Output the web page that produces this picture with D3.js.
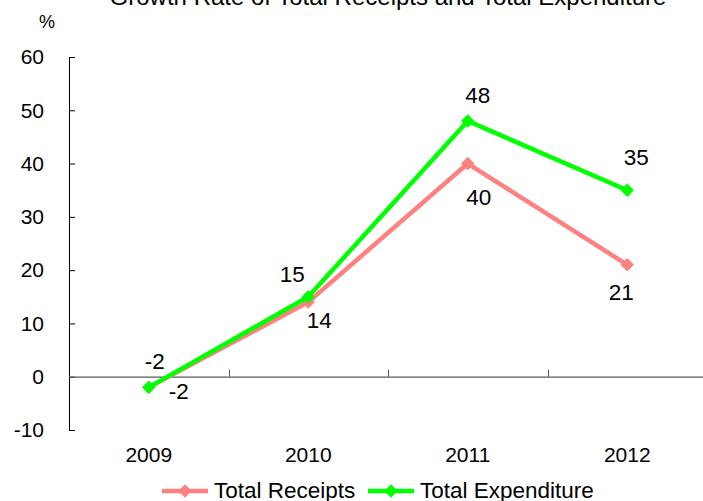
<!DOCTYPE html>
<html>
<head>
<meta charset="utf-8">
<script src="https://cdn.jsdelivr.net/npm/d3@7"></script>
<style>
  html, body { margin: 0; padding: 0; background: #fff; }
  svg { display: block; font-family: "Liberation Sans", Arial, sans-serif; }
</style>
</head>
<body>
<svg id="chart" width="703" height="501"></svg>
<script>
// Annual growth rates (%)
const years = ["2009", "2010", "2011", "2012"];
const totalReceipts = [-2, 14, 40, 21];
const totalExpenditure = [-2, 15, 48, 35];
const yTicks = [-10, 0, 10, 20, 30, 40, 50, 60];

const seriesNames = ["Total Receipts", "Total Expenditure"];
const seriesColors = ["#FF8080", "#00FF00"];

// Label nudges (dx, dy) from each point, per series
const labelNudges = [
  [[30, 4], [11, 18], [11, 34], [-6, 27]],
  [[6, -26], [-16, -23], [10, -26], [9, -33]]
];

const svg = d3.select("#chart");

const x = d3.scaleBand().domain(years).range([69, 707]).padding(0);
const y = d3.scaleLinear().domain([-10, 60]).range([430, 57]);

// Title
svg.append("text")
  .attr("x", 388).attr("y", 5)
  .attr("text-anchor", "middle")
  .attr("font-size", 24)
  .attr("fill", "#000")
  .text("Growth Rate of Total Receipts and Total Expenditure");

// Unit label
svg.append("text")
  .attr("x", 47).attr("y", 28)
  .attr("text-anchor", "middle")
  .attr("font-size", 18)
  .text("%");

// Y axis (ticks pointing inward)
const yAxis = svg.append("g")
  .attr("transform", "translate(69,0)")
  .call(d3.axisRight(y).tickValues(yTicks).tickSize(6).tickFormat(""));
yAxis.select(".domain").attr("stroke", "#000").attr("d", "M0.5," + y(-10) + "V" + y(60));
yAxis.selectAll(".tick line").attr("stroke", "#000");

// Y tick labels
svg.append("g").selectAll("text")
  .data(yTicks).join("text")
  .attr("x", 44)
  .attr("y", d => y(d))
  .attr("dy", "0.35em")
  .attr("text-anchor", "end")
  .attr("font-size", 21)
  .text(d => d);

// X axis at zero with category separators
const xAxis = svg.append("g")
  .attr("transform", "translate(0," + y(0) + ")");
xAxis.append("line")
  .attr("x1", 69).attr("x2", 703)
  .attr("y1", 0.5).attr("y2", 0.5)
  .attr("stroke", "#595959").attr("stroke-width", 1.3);
xAxis.selectAll(".sep")
  .data(years.slice(1)).join("line")
  .attr("class", "sep")
  .attr("x1", d => Math.round(x(d)) + 0.5)
  .attr("x2", d => Math.round(x(d)) + 0.5)
  .attr("y1", 0).attr("y2", -7)
  .attr("stroke", "#595959");

// Category labels
svg.append("g").selectAll("text")
  .data(years).join("text")
  .attr("x", d => x(d) + x.bandwidth() / 2)
  .attr("y", 462)
  .attr("text-anchor", "middle")
  .attr("font-size", 21)
  .text(d => d);

const cx = d => x(d) + x.bandwidth() / 2;
const line = d3.line().x(d => cx(d.year)).y(d => y(d.value));

const seriesData = [totalReceipts, totalExpenditure].map((vals, si) =>
  vals.map((v, i) => ({ year: years[i], value: v, nudge: labelNudges[si][i] }))
);

seriesData.forEach((data, si) => {
  const g = svg.append("g");
  g.append("path")
    .datum(data)
    .attr("d", line)
    .attr("fill", "none")
    .attr("stroke", seriesColors[si])
    .attr("stroke-width", 4.5)
    .attr("stroke-linejoin", "round");
  g.selectAll(".marker")
    .data(data).join("path")
    .attr("class", "marker")
    .attr("d", d3.symbol().type(d3.symbolSquare).size(90))
    .attr("transform", d => `translate(${cx(d.year)},${y(d.value)}) rotate(45)`)
    .attr("fill", seriesColors[si]);
});

// Value labels
seriesData.forEach((data, si) => {
  svg.append("g").selectAll("text")
    .data(data).join("text")
    .attr("x", d => cx(d.year) + d.nudge[0])
    .attr("y", d => y(d.value) + d.nudge[1])
    .attr("dy", "0.35em")
    .attr("text-anchor", "middle")
    .attr("font-size", 22.5)
    .text(d => d.value);
});

// Legend
const legendItems = [
  { name: seriesNames[0], color: seriesColors[0], x0: 162 },
  { name: seriesNames[1], color: seriesColors[1], x0: 368 }
];
const lg = svg.append("g");
legendItems.forEach(it => {
  lg.append("line")
    .attr("x1", it.x0).attr("x2", it.x0 + 46)
    .attr("y1", 491).attr("y2", 491)
    .attr("stroke", it.color).attr("stroke-width", 4.5);
  lg.append("path")
    .attr("d", d3.symbol().type(d3.symbolSquare).size(90))
    .attr("transform", `translate(${it.x0 + 23},491) rotate(45)`)
    .attr("fill", it.color);
  lg.append("text")
    .attr("x", it.x0 + 52).attr("y", 498)
    .attr("font-size", 22.5)
    .text(it.name);
});
</script>
</body>
</html>
